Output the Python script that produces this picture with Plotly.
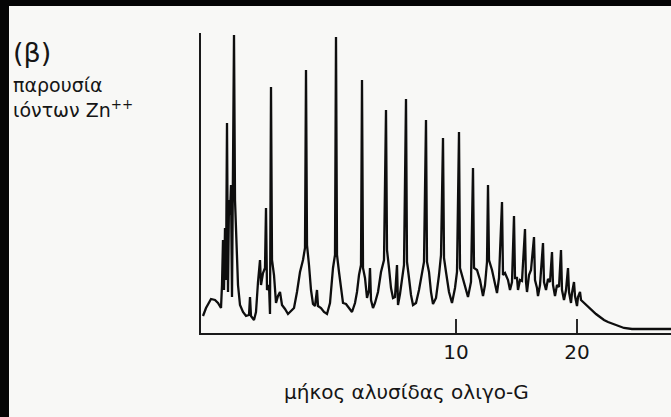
import plotly.graph_objects as go

# Elution trace (arbitrary units: time, absorbance)
elution_time = [
    2, 5, 10, 14, 17, 20, 21, 22, 23, 24, 25, 26, 27, 28, 29, 30, 31, 32, 33, 34, 35, 37, 39, 42, 45, 48, 49, 50,
    53, 55, 57, 59, 60, 62, 64, 65, 66, 68, 69, 70, 71, 73, 75, 77, 79, 81, 84, 87, 90, 93, 96, 99, 102, 104,
    105, 106, 108, 110, 112, 114, 116, 117, 120, 123, 126, 129, 132, 134, 135, 136, 138, 140, 142, 145, 148,
    151, 154, 156, 158, 160, 161, 162, 164, 166, 168, 169, 170, 172, 174, 177, 180, 183, 185, 186, 188, 190,
    192, 194, 196, 197, 199, 201, 203, 205, 206, 208, 210, 212, 215, 218, 221, 223, 225, 226, 228, 230, 232,
    235, 238, 240, 242, 243, 245, 248, 251, 254, 256, 258, 259, 261, 264, 267, 270, 272, 273, 276, 279, 282,
    284, 286, 287, 288, 291, 294, 296, 298, 301, 302, 304, 307, 309, 311, 313, 314, 316, 317, 319, 321, 324,
    325, 326, 328, 330, 333, 334, 336, 337, 339, 342, 343, 345, 347, 349, 351, 352, 354, 356, 358, 360, 361,
    363, 365, 367, 368, 370, 371, 373, 374, 376, 377, 379, 380, 383, 386, 389, 392, 395, 399, 403, 407, 412,
    417, 423, 431, 449, 470,
]
absorbance = [
    17, 25, 34, 33, 30, 25, 48, 93, 43, 105, 53, 210, 41, 133, 118, 148, 36, 143, 298, 133, 103, 48, 28, 21, 17,
    18, 36, 17, 13, 21, 51, 73, 48, 60, 65, 125, 43, 48, 19, 246, 73, 58, 30, 37, 41, 28, 24, 19, 22, 25, 41,
    61, 73, 85, 263, 88, 68, 43, 29, 27, 43, 27, 25, 21, 19, 30, 65, 78, 296, 78, 61, 43, 30, 29, 25, 21, 30,
    41, 58, 68, 253, 65, 55, 35, 43, 65, 33, 25, 30, 41, 61, 73, 223, 83, 65, 45, 35, 36, 68, 28, 39, 53, 68,
    234, 71, 55, 38, 28, 30, 43, 58, 71, 213, 71, 61, 41, 29, 35, 58, 78, 195, 75, 61, 41, 30, 45, 61, 201,
    65, 58, 48, 36, 51, 165, 65, 63, 53, 37, 48, 71, 148, 73, 63, 51, 40, 55, 131, 58, 60, 53, 43, 51, 117,
    55, 55, 43, 53, 52, 104, 51, 41, 58, 63, 96, 53, 45, 37, 48, 90, 51, 43, 54, 51, 81, 48, 37, 48, 46, 83,
    43, 33, 43, 65, 41, 30, 40, 51, 37, 27, 36, 41, 33, 30, 27, 24, 21, 19, 16, 13, 11, 9, 7, 5, 4, 4, 4,
]
tick_positions = [255, 376]
tick_labels = ["10", "20"]

INK = "#0e0e0e"
TXT = "#151515"
BG = "#f8f8f6"
FONT = "DejaVu Sans, Arial, sans-serif"

fig = go.Figure()
fig.add_trace(go.Scatter(
    x=elution_time, y=absorbance, mode="lines",
    line=dict(color=INK, width=2.3), hoverinfo="skip", showlegend=False,
))

fig.update_layout(
    width=671, height=417,
    margin=dict(l=201, r=0, t=33, b=84),
    paper_bgcolor=BG, plot_bgcolor=BG,
    font=dict(family=FONT, color=TXT),
    xaxis=dict(
        range=[0, 470], showgrid=False, zeroline=False,
        showline=True, linecolor="#1a1a1a", linewidth=2.2,
        ticks="inside", ticklen=14, tickwidth=1.6, tickcolor="#2a2a2a",
        tickvals=tick_positions, ticktext=tick_labels,
        tickfont=dict(size=20, family=FONT, color=TXT),
        fixedrange=True,
    ),
    yaxis=dict(
        range=[0, 300], showgrid=False, zeroline=False,
        showline=True, linecolor="#1a1a1a", linewidth=2.2,
        showticklabels=False, ticks="", fixedrange=True,
    ),
    annotations=[
        dict(text="μήκος αλυσίδας ολιγο-G", xref="paper", yref="paper",
             x=(406 - 201) / 470, y=(333 - 392) / 300, xanchor="center", yanchor="middle",
             showarrow=False, font=dict(size=20, family=FONT, color=TXT)),
        dict(text="(β)", xref="paper", yref="paper",
             x=(11 - 201) / 470, y=(333 - 52) / 300, xanchor="left", yanchor="middle",
             showarrow=False, font=dict(size=27, family=FONT, color=TXT)),
        dict(text="παρουσία<br>ιόντων Zn<sup>++</sup>", xref="paper", yref="paper",
             x=(11 - 201) / 470, y=(333 - 97) / 300, xanchor="left", yanchor="middle",
             align="left", showarrow=False, font=dict(size=19, family=FONT, color=TXT)),
    ],
    shapes=[
        dict(type="rect", xref="paper", yref="paper", x0=-201 / 470, x1=(9 - 201) / 470,
             y0=-84 / 300, y1=333 / 300, fillcolor="#050505", line=dict(width=0), layer="above"),
        dict(type="rect", xref="paper", yref="paper", x0=-201 / 470, x1=1.0,
             y0=(333 - 6) / 300, y1=333 / 300, fillcolor="#050505", line=dict(width=0), layer="above"),
    ],
)

fig.write_html("out.html")
